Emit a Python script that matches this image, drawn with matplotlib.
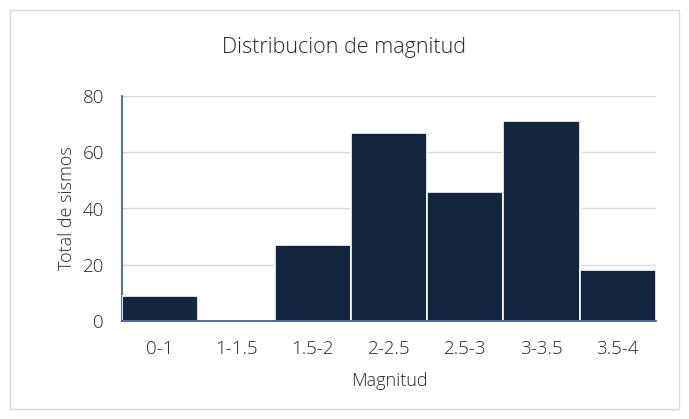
import matplotlib.pyplot as plt
from matplotlib.patches import Rectangle
import numpy as np

bins = ["0-1", "1-1.5", "1.5-2", "2-2.5", "2.5-3", "3-3.5", "3.5-4"]
counts = [9, 0, 27, 67, 46, 71, 18]
yticks = [0, 20, 40, 60, 80]

plt.rcParams['font.family'] = ['Open Sans', 'DejaVu Sans']
plt.rcParams['font.weight'] = 'light'

W, H = 689, 419
fig = plt.figure(figsize=(W / 100, H / 100), dpi=100)
fig.patch.set_facecolor('white')

# outer chart frame (Excel style)
fig.patches.append(Rectangle((10 / W, 10 / H), 669 / W, 399 / H, transform=fig.transFigure,
                             fill=False, edgecolor='#D9D9D9', linewidth=1.0))

ax = fig.add_axes([122 / W, (H - 321) / H, (656 - 122) / W, (321 - 96) / H])
x = np.arange(len(bins))
ax.bar(x, counts, width=1.0, color='#12263F', edgecolor='white', linewidth=1.2, zorder=3)

ax.set_xlim(-0.5, len(bins) - 0.5)
ax.set_ylim(0, 80)
ax.set_yticks(yticks)
ax.set_xticks(x)
ax.set_xticklabels(bins)
ax.yaxis.grid(True, color='#D9D9D9', linewidth=1.0, zorder=0)
ax.set_axisbelow(True)

for s in ['top', 'right']:
    ax.spines[s].set_visible(False)
ax.spines['left'].set_color('#2F5597')
ax.spines['bottom'].set_color('#2F5597')
ax.spines['left'].set_linewidth(1.2)
ax.spines['bottom'].set_linewidth(1.2)
ax.spines['bottom'].set_zorder(4)
ax.tick_params(axis='both', length=0, labelsize=13.5, colors='#262626')
ax.tick_params(axis='y', pad=13)
ax.tick_params(axis='x', pad=14)

ax.set_xlabel("Magnitud", fontsize=13, color='#262626', fontweight='light', labelpad=10)
ax.set_ylabel("Total de sismos", fontsize=13, color='#262626', fontweight='light', labelpad=5)
fig.text(0.5, 1 - 47 / H, "Distribucion de magnitud", ha='center', va='center',
         fontsize=15.5, color='#262626', fontweight='light')

plt.savefig('out.png', dpi=100, facecolor='white')
plt.close()
